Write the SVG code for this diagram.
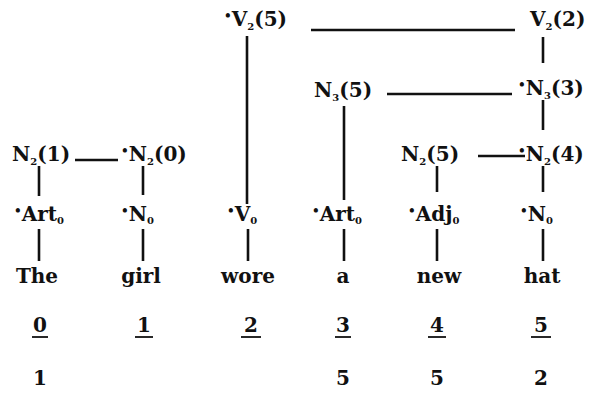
<svg xmlns="http://www.w3.org/2000/svg" width="595" height="411" viewBox="0 0 595 411">
<style>
text{font-family:"DejaVu Serif","Liberation Serif",serif;font-size:20px;font-weight:bold;fill:#111}
.s{font-size:10px}
.b{font-size:12px}
.c line{stroke:#111;stroke-width:2.6;stroke-linecap:butt}
.u{stroke:#111;stroke-width:1.8}
</style>
<rect width="595" height="411" fill="#fff"/>
<g class="c" id="connectors">
<line x1="311" y1="30" x2="515" y2="30"/>
<line x1="543" y1="37" x2="543" y2="63"/>
<line x1="247" y1="36" x2="247" y2="204"/>
<line x1="387" y1="94" x2="512" y2="94"/>
<line x1="344" y1="106" x2="344" y2="200"/>
<line x1="543" y1="100" x2="543" y2="130"/>
<line x1="75" y1="160" x2="118" y2="160"/>
<line x1="478" y1="156" x2="525" y2="156"/>
<line x1="39" y1="166" x2="39" y2="196"/>
<line x1="143" y1="166" x2="143" y2="195"/>
<line x1="437" y1="166" x2="437" y2="192"/>
<line x1="543" y1="166" x2="543" y2="192"/>
<line x1="39" y1="229" x2="39" y2="261"/>
<line x1="143" y1="229" x2="143" y2="261"/>
<line x1="248" y1="229" x2="248" y2="261"/>
<line x1="344" y1="229" x2="344" y2="261"/>
<line x1="437" y1="229" x2="437" y2="261"/>
<line x1="543" y1="229" x2="543" y2="261"/>
</g>
<g id="V2_5"><text x="224" y="26"><tspan class="b" dy="-6">•</tspan><tspan dy="6">V</tspan><tspan class="s" dy="4">2</tspan><tspan dy="-4">(5)</tspan></text></g>
<g id="V2_2"><text x="530" y="26">V<tspan class="s" dy="4">2</tspan><tspan dy="-4">(2)</tspan></text></g>
<g id="N3_5"><text x="314" y="97">N<tspan class="s" dy="4">3</tspan><tspan dy="-4">(5)</tspan></text></g>
<g id="N3_3"><text x="518" y="95"><tspan class="b" dy="-6">•</tspan><tspan dy="6">N</tspan><tspan class="s" dy="4">3</tspan><tspan dy="-4">(3)</tspan></text></g>
<g id="N2_1"><text x="12" y="161">N<tspan class="s" dy="4">2</tspan><tspan dy="-4">(1)</tspan></text></g>
<g id="N2_0"><text x="121" y="161"><tspan class="b" dy="-6">•</tspan><tspan dy="6">N</tspan><tspan class="s" dy="4">2</tspan><tspan dy="-4">(0)</tspan></text></g>
<g id="N2_5"><text x="401" y="161">N<tspan class="s" dy="4">2</tspan><tspan dy="-4">(5)</tspan></text></g>
<g id="N2_4"><text x="518" y="161"><tspan class="b" dy="-6">•</tspan><tspan dy="6">N</tspan><tspan class="s" dy="4">2</tspan><tspan dy="-4">(4)</tspan></text></g>
<g id="Art0_a"><text x="14" y="221"><tspan class="b" dy="-6">•</tspan><tspan dy="6">Art</tspan><tspan class="s" dy="3">0</tspan></text></g>
<g id="N0_a"><text x="121" y="221"><tspan class="b" dy="-6">•</tspan><tspan dy="6">N</tspan><tspan class="s" dy="3">0</tspan></text></g>
<g id="V0"><text x="227" y="221"><tspan class="b" dy="-6">•</tspan><tspan dy="6">V</tspan><tspan class="s" dy="3">0</tspan></text></g>
<g id="Art0_b"><text x="312" y="221"><tspan class="b" dy="-6">•</tspan><tspan dy="6">Art</tspan><tspan class="s" dy="3">0</tspan></text></g>
<g id="Adj0"><text x="408" y="221"><tspan class="b" dy="-6">•</tspan><tspan dy="6">Adj</tspan><tspan class="s" dy="3">0</tspan></text></g>
<g id="N0_b"><text x="520" y="221"><tspan class="b" dy="-6">•</tspan><tspan dy="6">N</tspan><tspan class="s" dy="3">0</tspan></text></g>
<g id="words" text-anchor="middle">
<text x="37" y="283">The</text>
<text x="141" y="283">girl</text>
<text x="248" y="283">wore</text>
<text x="343" y="283">a</text>
<text x="439" y="283">new</text>
<text x="542" y="283">hat</text>
</g>
<g id="indices" text-anchor="middle">
<text x="40" y="332">0</text><line class="u" x1="32" y1="337" x2="48" y2="337"/>
<text x="144" y="332">1</text><line class="u" x1="135" y1="337" x2="153" y2="337"/>
<text x="251" y="332">2</text><line class="u" x1="241" y1="337" x2="261" y2="337"/>
<text x="343" y="332">3</text><line class="u" x1="335" y1="337" x2="351" y2="337"/>
<text x="437" y="332">4</text><line class="u" x1="428" y1="337" x2="446" y2="337"/>
<text x="541" y="332">5</text><line class="u" x1="531" y1="337" x2="551" y2="337"/>
</g>
<g id="numbers" text-anchor="middle">
<text x="40" y="385">1</text>
<text x="343" y="385">5</text>
<text x="437" y="385">5</text>
<text x="541" y="385">2</text>
</g>
</svg>
